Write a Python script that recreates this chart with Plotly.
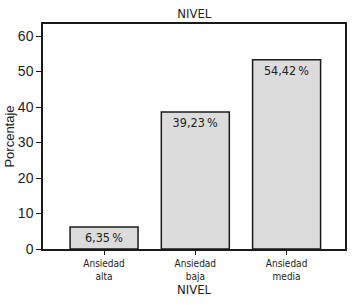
import plotly.graph_objects as go

categories = ["Ansiedad<br>alta", "Ansiedad<br>baja", "Ansiedad<br>media"]
values = [6.2, 38.6, 53.3]
labels = ["6,35\u2009%", "39,23\u2009%", "54,42\u2009%"]
y_ticks = [0, 10, 20, 30, 40, 50, 60]

fig = go.Figure(go.Bar(
    x=[0, 1, 2],
    y=values,
    width=0.745,
    text=labels,
    textposition="inside",
    insidetextanchor="end",
    constraintext="none",
    textfont=dict(family="DejaVu Sans Condensed", size=12.5, color="#222"),
    marker=dict(color="#dcdcdc", line=dict(color="#1a1a1a", width=1.5)),
    hoverinfo="skip",
))

fig.update_layout(
    width=352, height=305,
    margin=dict(l=43, r=7, t=24, b=56, autoexpand=False),
    paper_bgcolor="white", plot_bgcolor="white",
    showlegend=False,
    title=dict(text="NIVEL", x=0.552, xanchor="center", y=0.955, yanchor="middle",
               font=dict(family="DejaVu Sans Condensed", size=13, color="#222")),
    font=dict(family="DejaVu Sans Condensed", color="#222"),
)
fig.update_xaxes(
    range=[-0.669, 2.64], automargin=False,
    tickvals=[0, 1, 2], ticktext=categories,
    ticks="outside", ticklen=4, tickcolor="#1a1a1a", tickwidth=1,
    tickfont=dict(family="DejaVu Sans Condensed", size=10, color="#222"),
    showline=True, linecolor="#1a1a1a", linewidth=1.5, mirror=True,
    showgrid=False, zeroline=False,
    title=dict(text="NIVEL", standoff=0, font=dict(family="DejaVu Sans Condensed", size=13, color="#222")),
)
fig.update_yaxes(
    range=[0, 63.4], automargin=False,
    tickvals=y_ticks,
    ticks="outside", ticklen=5, tickcolor="#1a1a1a", tickwidth=1,
    tickfont=dict(family="Liberation Sans", size=14, color="#222"),
    showline=True, linecolor="#1a1a1a", linewidth=1.5, mirror=True,
    showgrid=False, zeroline=False,
    title=dict(text="Porcentaje", standoff=0, font=dict(family="Liberation Sans", size=13, color="#222")),
)

fig.write_html("out.html", config={"displayModeBar": False},
               post_script="document.body.style.margin='0';")
